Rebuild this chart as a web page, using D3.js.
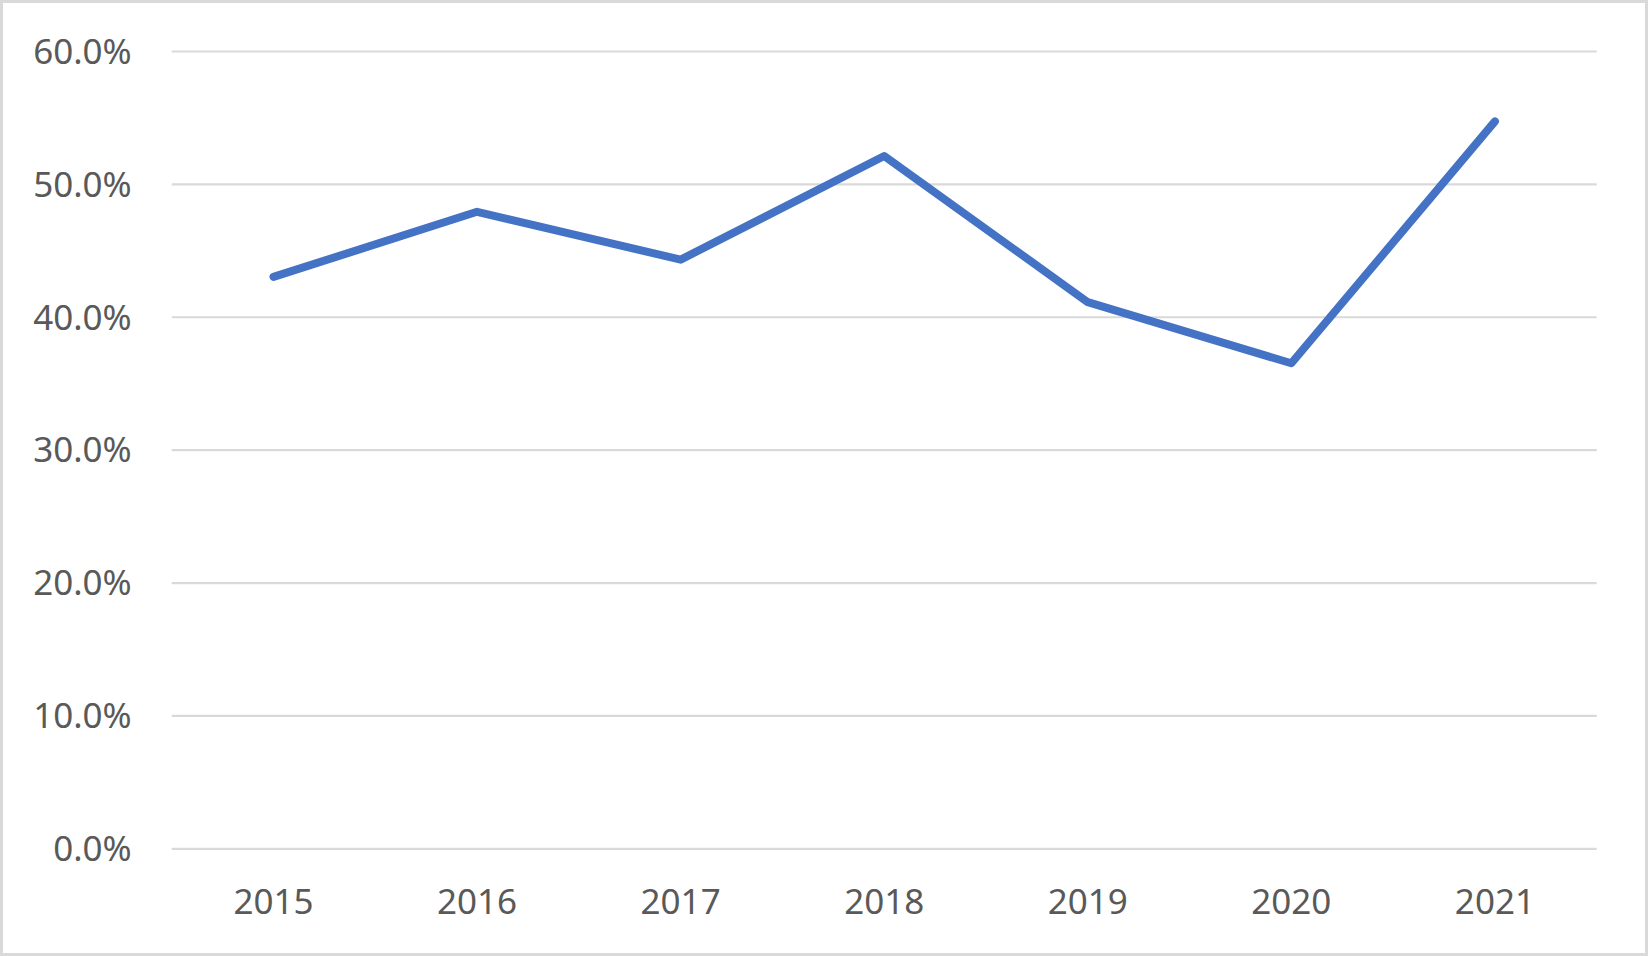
<!DOCTYPE html>
<html>
<head>
<meta charset="utf-8">
<script src="https://cdn.jsdelivr.net/npm/d3@7"></script>
<style>
html,body{margin:0;padding:0;background:#fff;}
svg{display:block;}
text{font-family:"Noto Sans",sans-serif;fill:#595959;}
</style>
</head>
<body>
<svg id="chart" width="1648" height="956"></svg>
<script>
const categories = ["2015","2016","2017","2018","2019","2020","2021"];
const values = [0.430, 0.479, 0.443, 0.521, 0.411, 0.365, 0.547];
const yTicks = [0, 0.1, 0.2, 0.3, 0.4, 0.5, 0.6];

(function(){
const svg = d3.select("#chart");
const W = 1648, H = 956;
const mLeft = 171.7, mRight = 1596.7, mTop = 51, mBottom = 848.3;

svg.append("rect").attr("x",1.5).attr("y",1.5).attr("width",W-3).attr("height",H-3)
  .attr("fill","#fff").attr("stroke","#d9d9d9").attr("stroke-width",3);

const x = d3.scaleBand().domain(categories).range([mLeft,mRight]).padding(0);
const y = d3.scaleLinear().domain([0,0.6]).range([mBottom,mTop]);

const yAxis = d3.axisLeft(y).tickValues(yTicks).tickFormat(d3.format(".1%")).tickSize(-(mRight-mLeft)).tickPadding(40);
const gy = svg.append("g").attr("transform",`translate(${mLeft},0)`).call(yAxis);
gy.select(".domain").remove();
gy.selectAll(".tick line").attr("stroke","#d9d9d9").attr("stroke-width",2.2);
gy.selectAll(".tick text").attr("font-size",35).attr("fill","#595959").attr("dy","0.35em");

const xAxis = d3.axisBottom(x).tickSize(0).tickPadding(41);
const gx = svg.append("g").attr("transform",`translate(0,${mBottom})`).call(xAxis);
gx.select(".domain").remove();
gx.selectAll(".tick text").attr("font-size",35).attr("fill","#595959");

const line = d3.line().x((d,i)=>x(categories[i])+x.bandwidth()/2).y(d=>y(d));
svg.append("path").datum(values).attr("d",line).attr("fill","none")
  .attr("stroke","#4472C4").attr("stroke-width",8).attr("stroke-linecap","round").attr("stroke-linejoin","round");
})();
</script>
</body>
</html>
